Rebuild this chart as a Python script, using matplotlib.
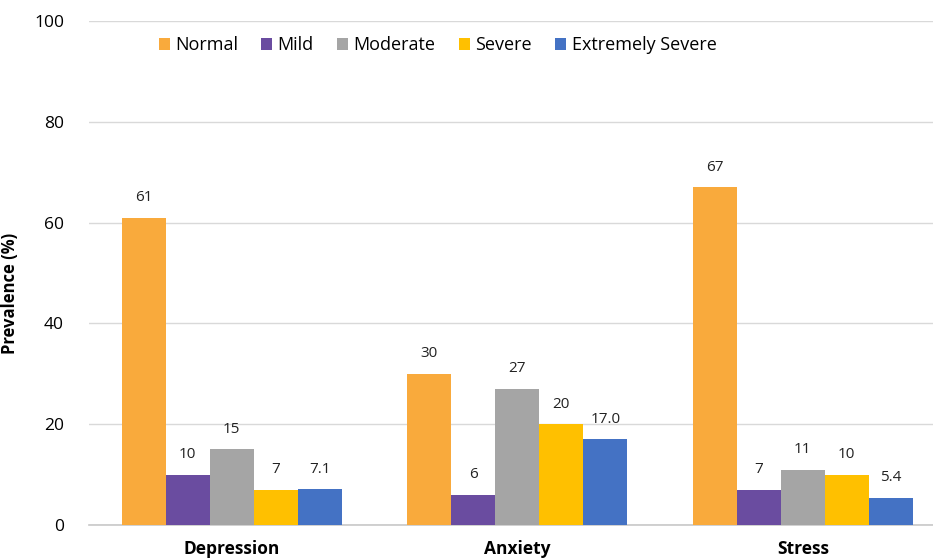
import matplotlib.pyplot as plt
from matplotlib.patches import Patch
import numpy as np

plt.rcParams['font.family'] = ['Open Sans', 'DejaVu Sans']

categories = ["Depression", "Anxiety", "Stress"]
levels = ["Normal", "Mild", "Moderate", "Severe", "Extremely Severe"]
colors = ["#F9AA3C", "#6A4CA0", "#A5A5A5", "#FFC000", "#4472C4"]

# printed value of each bar, one list per severity level (Depression, Anxiety, Stress)
normal = ["61", "30", "67"]
mild = ["10", "6", "7"]
moderate = ["15", "27", "11"]
severe = ["7", "20", "10"]
extremely_severe = ["7.1", "17.0", "5.4"]
series = [normal, mild, moderate, severe, extremely_severe]

fig = plt.figure(figsize=(9.33, 5.59), dpi=100)
ax = fig.add_axes([89 / 933, 34 / 559, 844 / 933, 504 / 559])

x = np.arange(len(categories))
width = 0.154
for i, (name, labels, color) in enumerate(zip(levels, series, colors)):
    heights = [float(s) for s in labels]
    pos = x + (i - 2) * width
    ax.bar(pos, heights, width, color=color, zorder=3)
    for px, h, s in zip(pos, heights, labels):
        ax.annotate(s, (px, h), xytext=(0, 9), textcoords="offset points",
                    ha="center", va="bottom", fontsize=11, color="#222222")

ax.set_xlim(-0.5, 2.456)
ax.set_ylim(0, 100)
ax.set_yticks(range(0, 101, 20))
ax.set_xticks(x)
ax.set_xticklabels(categories, fontweight="bold", fontsize=12.5)
ax.tick_params(axis="x", length=0, pad=11)
ax.tick_params(axis="y", length=0, pad=18, labelsize=12.5)
ax.yaxis.grid(True, color="#D9D9D9", linewidth=1, zorder=0)
for side in ["top", "right", "left"]:
    ax.spines[side].set_visible(False)
ax.spines["bottom"].set_color("#C8C8C8")
ax.spines["bottom"].set_linewidth(1.2)

ax.set_ylabel("Prevalence (%)", fontweight="bold", fontsize=12)
ax.yaxis.set_label_coords(-0.083, 0.46)

handles = [Patch(facecolor=c, label=n) for n, c in zip(levels, colors)]
ax.legend(handles=handles, loc="center", bbox_to_anchor=(0.413, 0.952), ncol=5,
          frameon=False, fontsize=13, handlelength=0.6, handleheight=0.6,
          handletextpad=0.3, columnspacing=1.3)

fig.savefig("out.png", dpi=100)
